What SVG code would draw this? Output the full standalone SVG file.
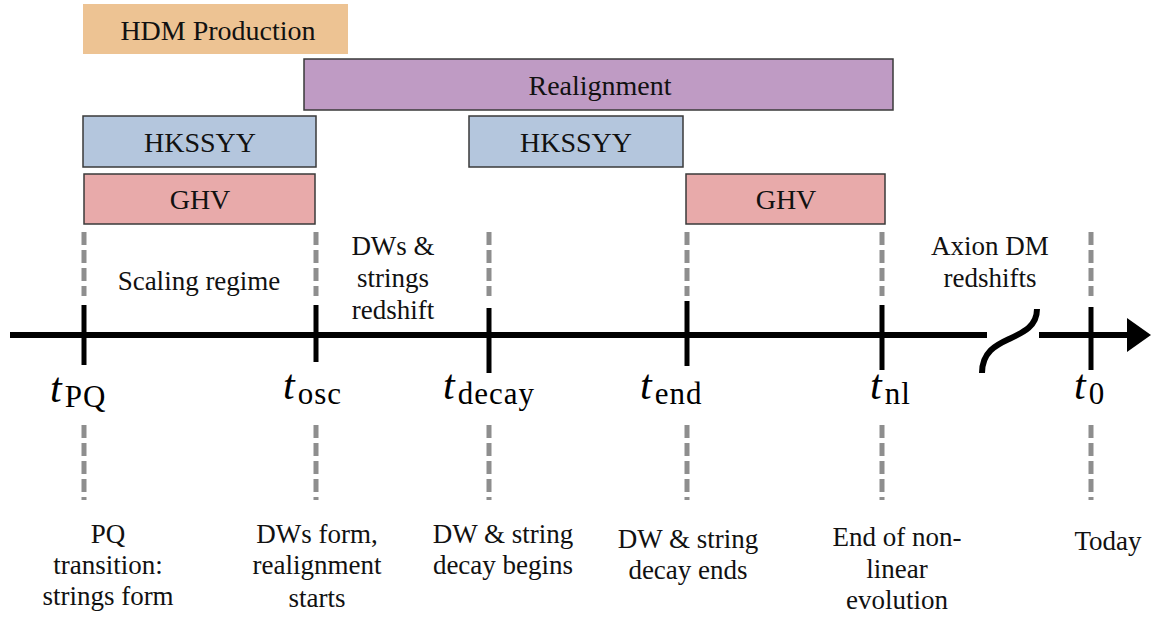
<svg xmlns="http://www.w3.org/2000/svg" width="1151" height="618" viewBox="0 0 1151 618">
<style>
.box{stroke:#3a3a3a;stroke-width:1.5}
text{font-family:"Liberation Serif","Times New Roman",Tinos,"DejaVu Serif","Noto Serif",serif}
.bt{font-size:28px;fill:#111;text-anchor:middle}
.lt{font-size:27px;fill:#111;text-anchor:middle}
.ax{stroke:#000;stroke-width:6;fill:none}
.tick{stroke:#000;stroke-width:5}
.dash{stroke:#8e8e8e;stroke-width:5;stroke-dasharray:13 5}
.mt{font-size:42px;font-style:italic;fill:#000}
.ms{font-size:31px;font-style:normal;letter-spacing:1px}
</style>
<rect width="1151" height="618" fill="#fff"/>
<g id="hdm"><rect x="83" y="4" width="265" height="50" fill="#EDC393"/><text class="bt" x="218" y="40">HDM Production</text></g>
<g id="realignment"><rect class="box" x="304" y="59" width="589" height="51" fill="#BF9BC4"/><text class="bt" x="600" y="95">Realignment</text></g>
<g id="hkssyy1"><rect class="box" x="83" y="116" width="233" height="51" fill="#B4C6DD"/><text class="bt" x="200" y="152">HKSSYY</text></g>
<g id="hkssyy2"><rect class="box" x="469" y="116" width="214" height="51" fill="#B4C6DD"/><text class="bt" x="576" y="152">HKSSYY</text></g>
<g id="ghv1"><rect class="box" x="84" y="174" width="231" height="50" fill="#E8AAAA"/><text class="bt" x="200" y="209">GHV</text></g>
<g id="ghv2"><rect class="box" x="686" y="174" width="199" height="50" fill="#E8AAAA"/><text class="bt" x="786" y="209">GHV</text></g>
<g id="connectors">
<line class="ax" x1="10" y1="335" x2="987" y2="335"/>
<line class="ax" x1="1039" y1="335" x2="1130" y2="335"/>
<polygon points="1127,318 1151,335 1127,352" fill="#000"/>
<path class="ax" d="M982,373 C982,352 996,345 1009,339 C1024,332 1037,326 1037,309" stroke-width="5"/>
<line class="tick" x1="84" y1="305" x2="84" y2="365"/>
<line class="tick" x1="316" y1="305" x2="316" y2="362"/>
<line class="tick" x1="489" y1="308" x2="489" y2="373"/>
<line class="tick" x1="687" y1="301" x2="687" y2="366"/>
<line class="tick" x1="882" y1="305" x2="882" y2="370"/>
<line class="tick" x1="1091" y1="307" x2="1091" y2="370"/>
<line class="dash" x1="84" y1="232" x2="84" y2="296"/>
<line class="dash" x1="316" y1="232" x2="316" y2="296"/>
<line class="dash" x1="489" y1="232" x2="489" y2="296"/>
<line class="dash" x1="687" y1="232" x2="687" y2="296"/>
<line class="dash" x1="882" y1="232" x2="882" y2="296"/>
<line class="dash" x1="1091" y1="232" x2="1091" y2="296"/>
<line class="dash" x1="84" y1="425" x2="84" y2="500"/>
<line class="dash" x1="316" y1="425" x2="316" y2="500"/>
<line class="dash" x1="489" y1="425" x2="489" y2="500"/>
<line class="dash" x1="687" y1="425" x2="687" y2="500"/>
<line class="dash" x1="882" y1="425" x2="882" y2="500"/>
<line class="dash" x1="1091" y1="425" x2="1091" y2="500"/>
</g>
<g id="times">
<text class="mt" x="50" y="402">t<tspan class="ms" dy="5" dx="3">PQ</tspan></text>
<text class="mt" x="283" y="399">t<tspan class="ms" dy="5" dx="3">osc</tspan></text>
<text class="mt" x="443" y="399">t<tspan class="ms" dy="5" dx="3">decay</tspan></text>
<text class="mt" x="640" y="399">t<tspan class="ms" dy="5" dx="3">end</tspan></text>
<text class="mt" x="870" y="399">t<tspan class="ms" dy="5" dx="3">nl</tspan></text>
<text class="mt" x="1074" y="399">t<tspan class="ms" dy="5" dx="3">0</tspan></text>
</g>
<g id="labels">
<text class="lt" x="199" y="290">Scaling regime</text>
<text class="lt" x="393" y="255">DWs &amp;</text>
<text class="lt" x="393" y="287">strings</text>
<text class="lt" x="393" y="319">redshift</text>
<text class="lt" x="990" y="255">Axion DM</text>
<text class="lt" x="990" y="287">redshifts</text>
<text class="lt" x="108" y="543">PQ</text>
<text class="lt" x="108" y="574">transition:</text>
<text class="lt" x="108" y="605">strings form</text>
<text class="lt" x="317" y="543">DWs form,</text>
<text class="lt" x="317" y="574">realignment</text>
<text class="lt" x="317" y="607">starts</text>
<text class="lt" x="503" y="543">DW &amp; string</text>
<text class="lt" x="503" y="574">decay begins</text>
<text class="lt" x="688" y="548">DW &amp; string</text>
<text class="lt" x="688" y="579">decay ends</text>
<text class="lt" x="897" y="546">End of non-</text>
<text class="lt" x="897" y="578">linear</text>
<text class="lt" x="897" y="609">evolution</text>
<text class="lt" x="1108" y="550">Today</text>
</g>
</svg>
